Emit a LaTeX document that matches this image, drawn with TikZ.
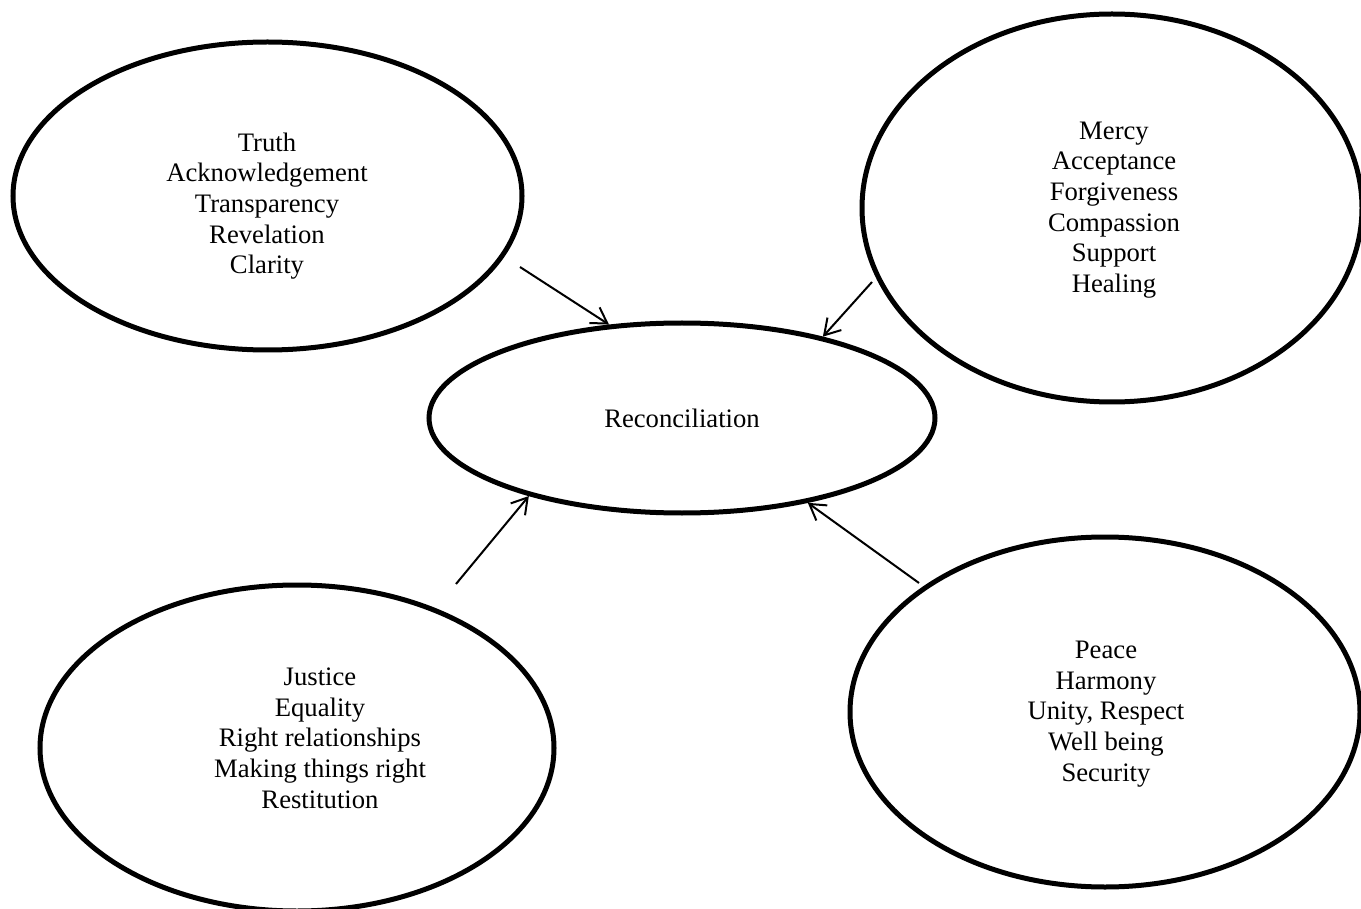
\documentclass[tikz,border=0pt]{standalone}
\usepackage{fontspec}
\setmainfont{Liberation Serif}
\usetikzlibrary{shapes.geometric,arrows.meta}
\begin{document}
\begin{tikzpicture}[x=0.75pt, y=-0.75pt,
    oval/.style={ellipse, draw, line width=3.75pt, inner sep=0pt},
    words/.style={align=center, font=\fontsize{20}{23}\selectfont},
    link/.style={line width=1.5pt, -{Straight Barb[length=11.5pt,width=14pt]}}]
  \useasboundingbox (0,0) rectangle (1361,909);
  % the five ovals
  \node[oval, words, minimum width=379.5pt, minimum height=142.5pt] (rec) at (682,418) {Reconciliation};
  \node[oval, minimum width=381.75pt, minimum height=231pt] (truth) at (267.5,196) {};
  \node[oval, minimum width=375pt, minimum height=291pt] (mercy) at (1112,208) {};
  \node[oval, minimum width=385.5pt, minimum height=244.5pt] (justice) at (297,748) {};
  \node[oval, minimum width=382.5pt, minimum height=262.5pt] (peace) at (1105,712) {};
  % their words
  \node[words] (truthwords) at (267,206) {Truth\\Acknowledgement\\Transparency\\Revelation\\Clarity};
  \node[words] (mercywords) at (1114,210) {Mercy\\Acceptance\\Forgiveness\\Compassion\\Support\\Healing};
  \node[words] (justicewords) at (320,738) {Justice\\Equality\\Right relationships\\Making things right\\Restitution};
  \node[words] (peacewords) at (1106,714) {Peace\\Harmony\\Unity, Respect\\Well being\\Security};
  % arrows into the middle
  \coordinate (truthend) at (520,267);
  \coordinate (mercyend) at (872,282);
  \coordinate (justiceend) at (456,584);
  \coordinate (peaceend) at (919,583);
  \draw[link] (truthend) -- (rec.128.5);
  \draw[link] (mercyend) -- (rec.30);
  \draw[link] (justiceend) -- (rec.207);
  \draw[link] (peaceend) -- (rec.326.4);
\end{tikzpicture}
\end{document}
